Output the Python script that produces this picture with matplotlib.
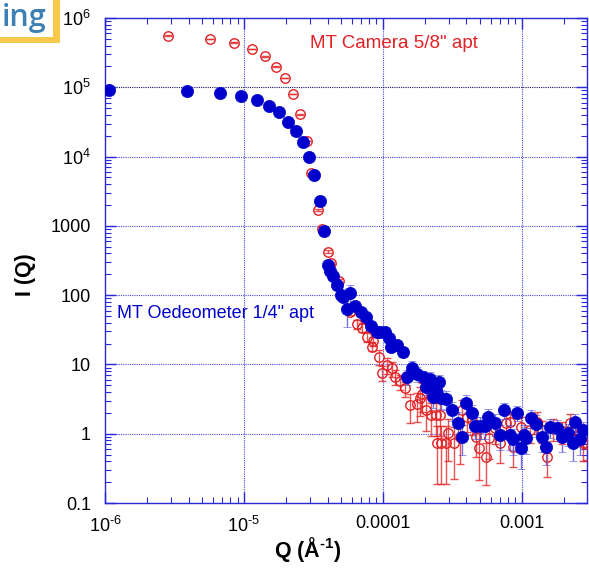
import matplotlib
matplotlib.use("Agg")
import matplotlib.pyplot as plt
from matplotlib.patches import Rectangle
from matplotlib.ticker import FixedLocator, FixedFormatter, LogLocator, NullFormatter
import numpy as np

plt.rcParams['font.family'] = ['Liberation Sans', 'DejaVu Sans']
plt.rcParams['mathtext.fontset'] = 'custom'
plt.rcParams['mathtext.rm'] = 'Liberation Sans'
plt.rcParams['mathtext.it'] = 'Liberation Sans:italic'
plt.rcParams['mathtext.bf'] = 'Liberation Sans:bold'
plt.rcParams['axes.unicode_minus'] = False

# ---- data: MT Camera 5/8" apt (red, open circles)
cam_q = [2.85e-6, 5.69e-6, 8.48e-6, 1.135e-5, 1.416e-5, 1.70e-5, 1.98e-5, 2.27e-5, 2.53e-5,
         2.84e-5, 3.05e-5, 3.43e-5, 3.62e-5, 4.0e-5, 4.27e-5, 4.85e-5, 5.8e-5, 6.56e-5,
         7.10e-5, 7.64e-5, 8.30e-5, 8.43e-5, 9.40e-5, 9.80e-5, 1.064e-4, 1.156e-4, 1.22e-4,
         1.34e-4, 1.45e-4, 1.57e-4, 1.77e-4, 1.85e-4, 1.93e-4, 2.06e-4, 2.24e-4, 2.40e-4,
         2.46e-4, 2.60e-4, 2.64e-4, 2.84e-4, 2.95e-4, 3.25e-4, 3.58e-4, 3.74e-4, 4.03e-4,
         4.35e-4, 4.72e-4, 4.93e-4, 5.57e-4, 5.82e-4, 6.40e-4, 7.03e-4, 7.67e-4, 8.20e-4,
         8.65e-4, 9.95e-4, 1.14e-3, 1.28e-3, 1.39e-3, 1.52e-3, 1.68e-3, 1.96e-3, 2.21e-3,
         2.40e-3, 2.61e-3, 2.76e-3, 2.94e-3]
cam_i = [5.56e5, 4.98e5, 4.40e5, 3.57e5, 2.80e5, 1.98e5, 1.36e5, 8.0e4, 4.07e4,
         1.68e4, 5800, 1680, 912, 425, 292, 162, 57.8, 38.4,
         34.0, 25.2, 18.1, 21.8, 13.0, 7.62, 9.84, 8.81, 6.67,
         5.69, 4.53, 2.60, 2.69, 3.25, 3.69, 2.20, 1.87, 1.87,
         0.744, 1.87, 0.744, 0.744, 1.02, 0.744, 0.908, 2.20, 1.77,
         1.58, 0.908, 0.618, 0.458, 0.861, 1.20, 0.744, 1.42, 1.50,
         0.652, 1.27, 1.13, 1.50, 1.13, 0.468, 1.20, 1.11, 1.42,
         1.13, 1.02, 0.729, 0.70]
cam_relerr = [0.015, 0.015, 0.015, 0.015, 0.015, 0.015, 0.015, 0.015, 0.015,
              0.015, 0.015, 0.04, 0.04, 0.04, 0.04, 0.04, 0.10, 0.15,
              0.15, 0.15, 0.15, 0.15, 0.25, 0.25, 0.25, 0.25, 0.25,
              0.25, 0.25, 0.45, 0.45, 0.45, 0.45, 0.50, 0.50, 0.50,
              0.75, 0.50, 0.75, 0.75, 0.60, 0.70, 0.60, 0.40, 0.40,
              0.40, 0.50, 0.65, 0.60, 0.50, 0.40, 0.50, 0.35, 0.35,
              0.50, 0.35, 0.35, 0.35, 0.35, 0.50, 0.35, 0.35, 0.35,
              0.35, 0.35, 0.45, 0.40]

# ---- data: MT Oedeometer 1/4" apt (blue, filled circles)
oed_q = [1.07e-6, 3.87e-6, 6.71e-6, 9.50e-6, 1.24e-5, 1.52e-5, 1.79e-5, 2.08e-5, 2.38e-5,
         2.65e-5, 2.94e-5, 3.21e-5, 3.51e-5, 3.78e-5, 4.04e-5, 4.16e-5, 4.35e-5, 4.65e-5,
         4.97e-5, 5.17e-5, 5.48e-5, 5.80e-5, 6.34e-5, 6.97e-5, 7.51e-5, 8.17e-5, 9.02e-5,
         9.51e-5, 1.03e-4, 1.10e-4, 1.15e-4, 1.27e-4, 1.40e-4, 1.50e-4, 1.61e-4, 1.76e-4,
         1.95e-4, 2.06e-4, 2.18e-4, 2.30e-4, 2.43e-4, 2.52e-4, 2.64e-4, 2.84e-4, 3.17e-4,
         3.48e-4, 3.74e-4, 4.00e-4, 4.35e-4, 4.59e-4, 4.99e-4, 5.42e-4, 5.73e-4, 6.40e-4,
         7.03e-4, 7.46e-4, 8.20e-4, 8.65e-4, 9.25e-4, 9.84e-4, 1.03e-3, 1.08e-3, 1.16e-3,
         1.26e-3, 1.39e-3, 1.49e-3, 1.61e-3, 1.78e-3, 1.96e-3, 2.15e-3, 2.34e-3, 2.40e-3,
         2.61e-3, 2.76e-3]
oed_i = [9.15e4, 8.93e4, 8.36e4, 7.56e4, 6.56e4, 5.32e4, 4.36e4, 3.19e4, 2.34e4,
         1.62e4, 9770, 5420, 2290, 839, 273, 226, 186, 140,
         99, 93.3, 63.2, 108, 69.8, 57.2, 48.0, 36.2, 29.0,
         29.7, 29.7, 24.1, 17.9, 18.9, 15.1, 6.67, 8.90, 7.36,
         6.49, 4.78, 6.18, 3.40, 4.29, 5.59, 3.25, 3.13, 2.20,
         1.45, 0.908, 2.75, 1.98, 1.30, 1.30, 1.30, 1.77, 1.42,
         0.961, 2.20, 0.961, 0.833, 2.01, 0.618, 0.961, 0.861, 1.71,
         1.37, 0.908, 0.638, 1.24, 1.20, 0.908, 1.02, 0.729, 1.50,
         0.833, 1.13]
oed_relerr = [0.01, 0.01, 0.01, 0.01, 0.01, 0.01, 0.01, 0.01, 0.01,
              0.01, 0.01, 0.01, 0.01, 0.01, 0.08, 0.08, 0.08, 0.15,
              0.10, 0.10, 0.45, 0.30, 0.15, 0.15, 0.15, 0.15, 0.15,
              0.15, 0.15, 0.15, 0.15, 0.15, 0.15, 0.25, 0.25, 0.25,
              0.25, 0.25, 0.25, 0.30, 0.25, 0.25, 0.30, 0.30, 0.30,
              0.40, 0.45, 0.30, 0.30, 0.35, 0.35, 0.35, 0.30, 0.35,
              0.40, 0.25, 0.40, 0.40, 0.25, 0.50, 0.40, 0.40, 0.30,
              0.35, 0.40, 0.45, 0.30, 0.30, 0.40, 0.35, 0.45, 0.30,
              0.40, 0.30]

x_ticks = [1e-6, 1e-5, 1e-4, 1e-3]
x_labels = ['$10^{\\text{-6}}$', '$10^{\\text{-5}}$', '0.0001', '0.001']
y_ticks = [0.1, 1, 10, 100, 1000, 1e4, 1e5, 1e6]
y_labels = ['0.1', '1', '10', '100', '1000', '$10^{4}$', '$10^{5}$', '$10^{6}$']

RED = '#e32024'
BLUE = '#0000cc'
AXBLUE = '#2828d8'

W, H = 589, 580
fig = plt.figure(figsize=(W / 100, H / 100), dpi=100)
ax = fig.add_axes([105 / W, 1 - 503 / H, 482 / W, 485 / H])
ax.set_xscale('log')
ax.set_yscale('log')
ax.set_xlim(1e-6, 2.95e-3)
ax.set_ylim(0.1, 1e6)

cam_i_a = np.array(cam_i)
cam_err = cam_i_a * np.array(cam_relerr)
oed_i_a = np.array(oed_i)
oed_err = oed_i_a * np.array(oed_relerr)

ax.errorbar(cam_q, cam_i, yerr=cam_err, fmt='o', ms=6.8, mfc='none', mec=RED, mew=1.0,
            ecolor=(0.9, 0.15, 0.15, 0.8), elinewidth=1.0, capsize=3.2, capthick=1.0, zorder=3)
ax.errorbar(oed_q, oed_i, yerr=oed_err, fmt='o', ms=8.8, mfc=BLUE, mec=BLUE, mew=0.5,
            ecolor=(0.3, 0.3, 0.85, 0.8), elinewidth=1.0, capsize=3.0, capthick=1.0, zorder=4)

# grid
for xv in x_ticks[1:]:
    ax.axvline(xv, color='#4848e4', lw=0.8, ls=(0, (1, 1)), zorder=1)
for yv in y_ticks[1:-1]:
    col = '#101060' if yv == 1e5 else '#4848e4'
    ax.axhline(yv, color=col, lw=0.8, ls=(0, (1, 1)), zorder=1)

ax.xaxis.set_major_locator(FixedLocator(x_ticks))
ax.xaxis.set_major_formatter(FixedFormatter(x_labels))
ax.yaxis.set_major_locator(FixedLocator(y_ticks))
ax.yaxis.set_major_formatter(FixedFormatter(y_labels))
ax.xaxis.set_minor_locator(LogLocator(base=10, subs=np.arange(2, 10), numticks=20))
ax.yaxis.set_minor_locator(LogLocator(base=10, subs=np.arange(2, 10), numticks=20))
ax.xaxis.set_minor_formatter(NullFormatter())
ax.yaxis.set_minor_formatter(NullFormatter())

ax.tick_params(which='both', direction='in', top=True, right=True, color=AXBLUE, labelsize=13)
ax.tick_params(which='major', length=8, width=1)
ax.tick_params(which='minor', length=4, width=0.8)
ax.tick_params(axis='y', which='major', pad=10)
ax.tick_params(axis='x', which='major', pad=9)
for s in ax.spines.values():
    s.set_color(AXBLUE)
    s.set_linewidth(1.0)

ax.set_xlabel('Q (Å$^{\\mathbf{\u20101}}$)', fontsize=15.5, fontweight='bold')
ax.xaxis.set_label_coords((308 - 105) / 482, -(550 - 503) / 485)
ax.xaxis.label.set_va('center')
ax.set_ylabel('I (Q)', fontsize=15.5, fontweight='bold')
ax.yaxis.set_label_coords((25 - 105) / 482, (503 - 275) / 485)
ax.yaxis.label.set_va('center')

ax.text((310 - 105) / 482, (503 - 43) / 485, 'MT Camera 5/8" apt', transform=ax.transAxes,
        color=RED, fontsize=13.5, ha='left', va='center')
ax.text((117 - 105) / 482, (503 - 313) / 485, 'MT Oedeometer 1/4" apt', transform=ax.transAxes,
        color=BLUE, fontsize=13, ha='left', va='center')

# partial logo at top-left
fig.patches.append(Rectangle((0, 1 - 43 / H), 60 / W, 43 / H, transform=fig.transFigure,
                             facecolor='#f7c948', edgecolor='none', zorder=0))
fig.patches.append(Rectangle((0, 1 - 37 / H), 53 / W, 37 / H, transform=fig.transFigure,
                             facecolor='white', edgecolor='none', zorder=1))
fig.text(46 / W, 1 - 26 / H, 'ing', color='#3b7fb4', fontsize=22, fontweight='semibold',
         family=['Open Sans', 'DejaVu Sans'], ha='right', va='baseline')

fig.savefig('out.png', dpi=100)
